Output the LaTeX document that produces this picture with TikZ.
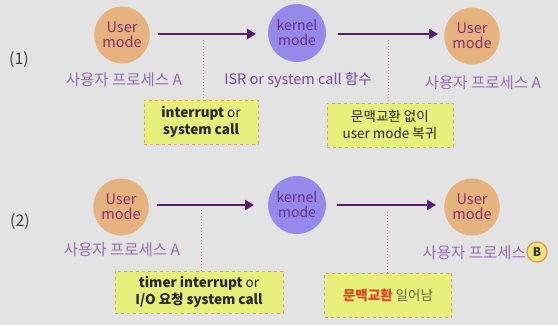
\documentclass[tikz,border=0pt]{standalone}
\usepackage{fontspec}
\setmainfont{Noto Sans CJK KR}
\usetikzlibrary{arrows.meta,shapes.geometric}
\definecolor{bgc}{HTML}{E3E3E3}
\definecolor{userfill}{HTML}{E6B27E}
\definecolor{usertext}{HTML}{86306E}
\definecolor{kernfill}{HTML}{9689EC}
\definecolor{kerntext}{HTML}{682C8C}
\definecolor{lblc}{HTML}{9A6CB4}
\definecolor{isrc}{HTML}{7A48A4}
\definecolor{arrc}{HTML}{5A1A72}
\definecolor{dotc}{HTML}{C07C9C}
\definecolor{boxfill}{HTML}{E8F07C}
\definecolor{boxline}{HTML}{E0A06A}
\definecolor{redc}{HTML}{E0401E}
\definecolor{greenc}{HTML}{5E6E3E}
\definecolor{circfill}{HTML}{F2E27A}
\definecolor{circline}{HTML}{E09A40}
\tikzset{
  usernode/.style={ellipse, fill=userfill, minimum width=50pt, minimum height=57pt, inner sep=0pt, text=usertext, font=\fontsize{14.5}{15}\selectfont, align=center},
  kernnode/.style={ellipse, fill=kernfill, minimum width=50pt, minimum height=58pt, inner sep=0pt, text=kerntext, font=\fontsize{14}{15}\selectfont, align=center},
  lbl/.style={text=lblc, font=\fontsize{15.5}{16}\selectfont, inner sep=0pt},
  flow/.style={draw=arrc, line width=2.6pt, -{Triangle[length=9pt,width=10pt]}},
  dotline/.style={draw=dotc, line width=1pt, dotted},
  notebox/.style={draw=boxline, dashed, line width=0.9pt, fill=boxfill, align=center, font=\fontsize{13.5}{16.5}\selectfont, text=black!85, inner sep=0pt},
  rowlbl/.style={text=black!75, font=\fontsize{16}{16}\selectfont}
}
\begin{document}
\begin{tikzpicture}[x=1pt,y=-1pt]
\fill[bgc] (0,0) rectangle (558,325);
\useasboundingbox (0,0) rectangle (558,325);
% row 1
\node[rowlbl] (r1) at (19,60) {(1)};
\node[usernode] (u1) at (122,35) {User\\mode};
\node[kernnode] (k1) at (297,33) {kernel\\mode};
\node[usernode] (u2) at (472,36) {User\\mode};
\node[lbl] (l1) at (124,80) {사용자 프로세스 A};
\node[lbl, text=isrc, font=\fontsize{14.5}{16}\selectfont] (l2) at (298,80) {ISR or system call 함수};
\node[lbl] (l3) at (483,83) {사용자 프로세스 A};
\coordinate (a1s) at (158,34);
\coordinate (a1e) at (256,34);
\draw[flow] (a1s) -- (a1e);
\coordinate (a2s) at (338,34);
\coordinate (a2e) at (438,34);
\draw[flow] (a2s) -- (a2e);
\node[notebox, minimum width=114pt, minimum height=44pt] (b1) at (201,122) {\textbf{interrupt} or\\\textbf{system call}};
\node[notebox, minimum width=126pt, minimum height=44pt] (b2) at (390,125) {문맥교환 없이\\user mode 복귀};
\coordinate (d1) at (203,40);
\coordinate (d2) at (388,40);
\draw[dotline] (d1) -- (b1.north -| d1);
\draw[dotline] (d2) -- (b2.north -| d2);
% row 2
\node[rowlbl] (r2) at (20,222) {(2)};
\node[usernode] (u3) at (121,207) {User\\mode};
\node[kernnode] (k2) at (297,205) {kernel\\mode};
\node[usernode] (u4) at (472,207) {User\\mode};
\node[lbl] (l4) at (122,250) {사용자 프로세스 A};
\node[lbl, anchor=east] (l5) at (526,253) {사용자 프로세스};
\node[circle, fill=circfill, draw=circline, line width=1.2pt, minimum size=20pt, inner sep=0pt, font=\fontsize{12}{12}\selectfont\bfseries, text=black!80] (cb) at (537,252) {B};
\coordinate (a3s) at (157,205);
\coordinate (a3e) at (254,205);
\draw[flow] (a3s) -- (a3e);
\coordinate (a4s) at (337,205);
\coordinate (a4e) at (436,205);
\draw[flow] (a4s) -- (a4e);
\node[notebox, minimum width=168pt, minimum height=42pt] (b3) at (199,292) {\textbf{timer interrupt} or\\\textbf{I/O 요청 system call}};
\node[notebox, minimum width=127pt, minimum height=44pt] (b4) at (388,295) {\textbf{\textcolor{redc}{문맥교환}} \textcolor{greenc}{일어남}};
\coordinate (d3) at (201,210);
\coordinate (d4) at (387,212);
\draw[dotline] (d3) -- (b3.north -| d3);
\draw[dotline] (d4) -- (b4.north -| d4);
\end{tikzpicture}
\end{document}
